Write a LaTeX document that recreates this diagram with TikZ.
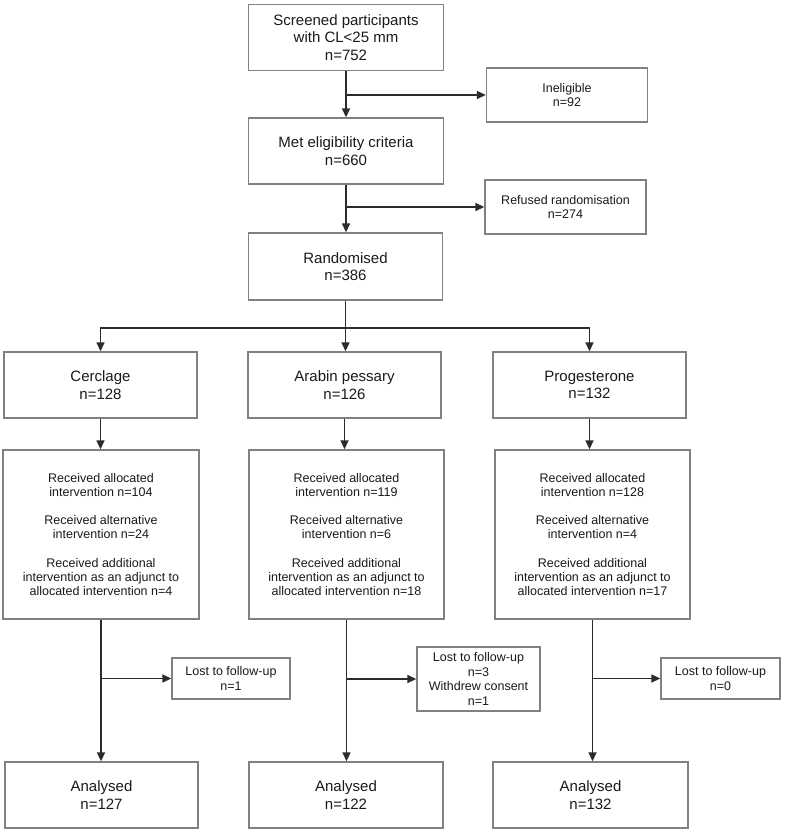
\documentclass[tikz,border=0pt]{standalone}
\usepackage{fontspec}
\setmainfont{Liberation Sans}
\usetikzlibrary{arrows.meta}
\definecolor{boxgray}{HTML}{808080}
\definecolor{arrowdark}{HTML}{2B2B2B}
\definecolor{txt}{HTML}{1A1A1A}
\tikzset{
  box/.style={draw=boxgray, line width=1.4pt, fill=white, align=center, inner sep=0pt, text=txt},
  bigbox/.style={box, font=\fontsize{15}{17.5}\selectfont},
  smallbox/.style={box, font=\fontsize{12.5}{14.4}\selectfont},
  arr/.style={draw=arrowdark, line width=1.6pt, -{Triangle[length=9pt,width=8pt]}},
  plainline/.style={draw=arrowdark, line width=1.6pt},
}
\begin{document}
\begin{tikzpicture}[x=1pt,y=-1pt]
\useasboundingbox[fill=white] (0,0) rectangle (787,832);
% top chain
\node[bigbox, minimum width=195pt, minimum height=66pt] (scr) at (346,37.5) {Screened participants\\with CL<25 mm\\n=752};
\node[smallbox, minimum width=161pt, minimum height=54pt] (inel) at (567,95) {Ineligible\\n=92};
\node[bigbox, minimum width=195pt, minimum height=66pt] (met) at (346,151) {Met eligibility criteria\\n=660};
\node[smallbox, minimum width=161pt, minimum height=54pt] (ref) at (565.5,207) {Refused randomisation\\n=274};
\node[bigbox, minimum width=194pt, minimum height=67pt] (rand) at (345.5,266.5) {Randomised\\n=386};
% groups
\node[bigbox, minimum width=193pt, minimum height=66pt] (cer) at (100.5,385) {Cerclage\\n=128};
\node[bigbox, minimum width=193pt, minimum height=66pt] (ara) at (344.5,385) {Arabin pessary\\n=126};
\node[bigbox, minimum width=193pt, minimum height=66pt] (pro) at (589.5,385) {Progesterone\\n=132};
% details
\node[smallbox, minimum width=196pt, minimum height=169pt] (cerd) at (101,534.5) {Received allocated\\intervention n=104\\[13.7pt]Received alternative\\intervention n=24\\[13.7pt]Received additional\\intervention as an adjunct to\\allocated intervention n=4};
\node[smallbox, minimum width=195pt, minimum height=169pt] (arad) at (346.5,534.5) {Received allocated\\intervention n=119\\[13.7pt]Received alternative\\intervention n=6\\[13.7pt]Received additional\\intervention as an adjunct to\\allocated intervention n=18};
\node[smallbox, minimum width=195pt, minimum height=169pt] (prod) at (592.5,534.5) {Received allocated\\intervention n=128\\[13.7pt]Received alternative\\intervention n=4\\[13.7pt]Received additional\\intervention as an adjunct to\\allocated intervention n=17};
% lost
\node[smallbox, minimum width=118pt, minimum height=41pt] (lost1) at (231,678.5) {Lost to follow-up\\n=1};
\node[smallbox, minimum width=123pt, minimum height=64pt] (lost2) at (478.5,679) {Lost to follow-up\\n=3\\Withdrew consent\\n=1};
\node[smallbox, minimum width=119pt, minimum height=41pt] (lost3) at (720.5,678.5) {Lost to follow-up\\n=0};
% analysed
\node[bigbox, minimum width=193pt, minimum height=66pt] (an1) at (101.5,795) {Analysed\\n=127};
\node[bigbox, minimum width=194pt, minimum height=66pt] (an2) at (346,795) {Analysed\\n=122};
\node[bigbox, minimum width=195pt, minimum height=66pt] (an3) at (590.5,795) {Analysed\\n=132};
% connectors
\draw[arr] (scr.south) -- (met.north);
\draw[arr] (scr.south |- inel.west) -- (inel.west);
\draw[arr] (met.south) -- (rand.north -| met.south);
\draw[arr] (met.south |- ref.west) -- (ref.west);
\coordinate (split) at (345.5,328);
\draw[plainline] (rand.south) -- (split);
\draw[arr] (split) -| (cer.north);
\draw[arr] (split) -- (ara.north -| split);
\draw[arr] (split) -| (pro.north);
\draw[arr] (cer.south) -- (cerd.north -| cer.south);
\draw[arr] (ara.south) -- (arad.north -| ara.south);
\draw[arr] (pro.south) -- (prod.north -| pro.south);
\draw[arr] (cerd.south) -- (an1.north -| cerd.south);
\draw[arr] (arad.south) -- (an2.north -| arad.south);
\draw[arr] (prod.south) -- (an3.north -| prod.south);
\draw[arr] (cerd.south |- lost1.west) -- (lost1.west);
\draw[arr] (arad.south |- lost2.west) -- (lost2.west);
\draw[arr] (prod.south |- lost3.west) -- (lost3.west);
\end{tikzpicture}
\end{document}
